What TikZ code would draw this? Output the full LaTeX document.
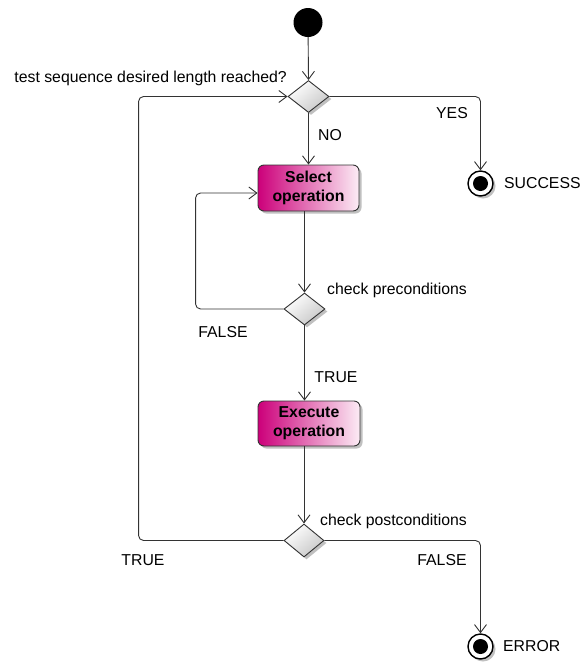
\documentclass[tikz,border=0pt]{standalone}
\usepackage{fontspec}
\setmainfont{Liberation Sans}
\usetikzlibrary{arrows.meta,shapes.geometric,shadows}

\definecolor{actdark}{RGB}{204,0,122}
\definecolor{actlight}{RGB}{252,236,245}

\tikzset{
  lbl/.style={font=\fontsize{15.8}{18}\selectfont, inner sep=0pt},
  flow/.style={draw=black!80, line width=0.9pt, rounded corners=5pt,
    -{Straight Barb[length=8pt,width=12pt,line width=0.9pt]}},
  softshadow/.style={drop shadow={shadow xshift=2.5pt, shadow yshift=-2.5pt, fill=black!35, opacity=0.7}},
  startnode/.style={circle, fill=black, minimum size=29pt, inner sep=0pt},
  decision/.style={diamond, draw=black!80, line width=0.9pt, inner sep=0pt,
    minimum width=41pt, minimum height=32pt, top color=white, bottom color=black!22,
    shading angle=40, softshadow},
  action/.style={rectangle, rounded corners=6pt, draw=black!80, line width=0.9pt,
    minimum width=101pt, minimum height=46pt, align=center, inner sep=0pt,
    left color=actdark, right color=actlight, softshadow,
    font=\bfseries\fontsize{15.8}{19}\selectfont},
  finalout/.style={circle, draw=black, line width=1.4pt, fill=white, minimum size=25pt,
    inner sep=0pt, softshadow},
  finalin/.style={circle, fill=black, minimum size=15pt, inner sep=0pt},
}

\begin{document}
\begin{tikzpicture}[x=1pt,y=-1pt]
  \useasboundingbox[fill=white] (0,0) rectangle (585,662);

  % nodes
  \node[startnode] (start) at (308,22.5) {};
  \node[decision] (d1) at (308.5,96.5) {};
  \node[action] (sel) at (308.5,188) {Select\\operation};
  \node[decision] (d2) at (304.5,309) {};
  \node[action, minimum width=102pt, minimum height=45pt] (exe) at (309,423.5) {Execute\\operation};
  \node[decision, minimum height=33pt, minimum width=40pt] (d3) at (304,540.5) {};
  \node[finalout] (succ) at (480.5,183.5) {};
  \node[finalin] (succin) at (succ) {};
  \node[finalout] (err) at (480.5,646.5) {};
  \node[finalin] (errin) at (err) {};

  % texts
  \node[lbl, anchor=east] (qlen) at (287,78) {test sequence desired length reached?};
  \node[lbl] (yes) at (452,113) {YES};
  \node[lbl] (no) at (330,135) {NO};
  \node[lbl, anchor=west] (cpre) at (327,290) {check preconditions};
  \node[lbl] (f1) at (223,332) {FALSE};
  \node[lbl] (t1) at (336,377) {TRUE};
  \node[lbl, anchor=west] (cpost) at (320,521) {check postconditions};
  \node[lbl] (t2) at (143,560) {TRUE};
  \node[lbl] (f2) at (442,560) {FALSE};
  \node[lbl, anchor=west] (succt) at (504,183.5) {SUCCESS};
  \node[lbl, anchor=west] (errt) at (503,646.5) {ERROR};

  % connectors
  \draw[flow] (start) -- (d1.north);
  \draw[flow] (d1.east) -| (succ.north);
  \draw[flow] (d1.south) -- (sel.north);
  \draw[flow] (sel.south -| d2) -- (d2.north);
  \draw[flow] (d2.west) -- ++(-88,0) |- ([yshift=-5pt]sel.west);
  \draw[flow] (d2.south) -- (d2.south |- exe.north);
  \draw[flow] (exe.south -| d3) -- (d3.north);
  \draw[flow] (d3.west) -- ++(-145,0) |- (d1.west);
  \draw[flow] (d3.east) -| (err.north);
\end{tikzpicture}
\end{document}
